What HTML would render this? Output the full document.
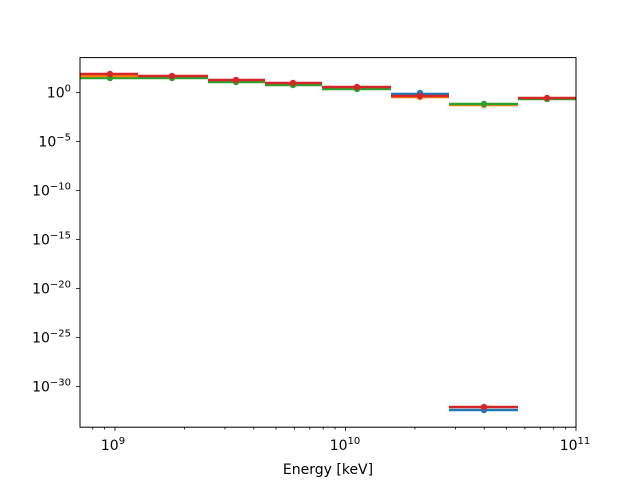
<!DOCTYPE html>
<html><head><meta charset="utf-8"><style>body{margin:0;background:#fff}svg{display:block}text{font-family:"DejaVu Sans","Liberation Sans",sans-serif;font-size:14px}</style></head>
<body>
<svg width="640" height="480" viewBox="0 0 640 480" xmlns="http://www.w3.org/2000/svg">
<rect width="640" height="480" fill="#fff"/>
<g stroke-width="2.5" fill="none">
<line x1="80" y1="78" x2="138" y2="78" stroke="#2ca02c"/>
<line x1="80" y1="76" x2="138" y2="76" stroke="#ff7f0e"/>
<line x1="80" y1="74" x2="138" y2="74" stroke="#d62728"/>
<line x1="138" y1="78" x2="208" y2="78" stroke="#2ca02c"/>
<line x1="138" y1="76" x2="208" y2="76" stroke="#d62728"/>
<line x1="208" y1="82" x2="265" y2="82" stroke="#2ca02c"/>
<line x1="208" y1="80" x2="265" y2="80" stroke="#d62728"/>
<line x1="265" y1="85" x2="322" y2="85" stroke="#2ca02c"/>
<line x1="265" y1="83" x2="322" y2="83" stroke="#d62728"/>
<line x1="322" y1="89" x2="391" y2="89" stroke="#2ca02c"/>
<line x1="322" y1="87" x2="391" y2="87" stroke="#d62728"/>
<line x1="391" y1="97" x2="449" y2="97" stroke="#ff7f0e"/>
<line x1="391" y1="94" x2="449" y2="94" stroke="#1f77b4"/>
<line x1="391" y1="96" x2="449" y2="96" stroke="#d62728"/>
<line x1="449" y1="105" x2="518" y2="105" stroke="#ff7f0e"/>
<line x1="449" y1="104" x2="518" y2="104" stroke="#2ca02c"/>
<line x1="449" y1="410" x2="518" y2="410" stroke="#1f77b4"/>
<line x1="449" y1="407" x2="518" y2="407" stroke="#d62728"/>
<line x1="518" y1="99" x2="576" y2="99" stroke="#2ca02c"/>
<line x1="518" y1="98" x2="576" y2="98" stroke="#d62728"/>
</g>
<g>
<circle cx="110" cy="78" r="3.2" fill="#2ca02c"/><circle cx="110" cy="74" r="3.2" fill="#d62728"/>
<circle cx="172" cy="78" r="3.2" fill="#2ca02c"/><circle cx="172" cy="76" r="3.2" fill="#d62728"/>
<circle cx="236" cy="82" r="3.2" fill="#2ca02c"/><circle cx="236" cy="80" r="3.2" fill="#d62728"/>
<circle cx="293" cy="85" r="3.2" fill="#2ca02c"/><circle cx="293" cy="83" r="3.2" fill="#d62728"/>
<circle cx="357" cy="89" r="3.2" fill="#2ca02c"/><circle cx="357" cy="87" r="3.2" fill="#d62728"/>
<circle cx="420" cy="97" r="3.2" fill="#ff7f0e"/><circle cx="420" cy="93" r="3.2" fill="#1f77b4"/><circle cx="420" cy="96" r="3.2" fill="#d62728"/>
<circle cx="484" cy="105" r="3.2" fill="#ff7f0e"/><circle cx="484" cy="104" r="3.2" fill="#2ca02c"/>
<circle cx="484" cy="410" r="3.2" fill="#1f77b4"/><circle cx="484" cy="407" r="3.2" fill="#d62728"/>
<circle cx="547" cy="99" r="3.2" fill="#2ca02c"/><circle cx="547" cy="98" r="3.2" fill="#d62728"/>
</g>
<rect x="80" y="57.6" width="496" height="369.6" fill="none" stroke="#000" stroke-width="1"/>
<g stroke="#000" stroke-width="0.8">
<line x1="115" y1="427" x2="115" y2="431"/>
<line x1="345.5" y1="427" x2="345.5" y2="431"/>
<line x1="576" y1="427" x2="576" y2="431"/>
<line x1="92.7" y1="427" x2="92.7" y2="429.5"/><line x1="104.5" y1="427" x2="104.5" y2="429.5"/>
<line x1="184.4" y1="427" x2="184.4" y2="429.5"/><line x1="225" y1="427" x2="225" y2="429.5"/><line x1="253.8" y1="427" x2="253.8" y2="429.5"/><line x1="276.1" y1="427" x2="276.1" y2="429.5"/><line x1="294.4" y1="427" x2="294.4" y2="429.5"/><line x1="309.8" y1="427" x2="309.8" y2="429.5"/><line x1="323.2" y1="427" x2="323.2" y2="429.5"/><line x1="335" y1="427" x2="335" y2="429.5"/>
<line x1="414.9" y1="427" x2="414.9" y2="429.5"/><line x1="455.5" y1="427" x2="455.5" y2="429.5"/><line x1="484.3" y1="427" x2="484.3" y2="429.5"/><line x1="506.6" y1="427" x2="506.6" y2="429.5"/><line x1="524.9" y1="427" x2="524.9" y2="429.5"/><line x1="540.3" y1="427" x2="540.3" y2="429.5"/><line x1="553.7" y1="427" x2="553.7" y2="429.5"/><line x1="565.5" y1="427" x2="565.5" y2="429.5"/>
<line x1="76" y1="92.5" x2="80" y2="92.5"/><line x1="76" y1="141.5" x2="80" y2="141.5"/><line x1="76" y1="190.5" x2="80" y2="190.5"/><line x1="76" y1="239.5" x2="80" y2="239.5"/><line x1="76" y1="288.5" x2="80" y2="288.5"/><line x1="76" y1="337.5" x2="80" y2="337.5"/><line x1="76" y1="386.5" x2="80" y2="386.5"/>
</g>
<g font-size="14" text-anchor="end">
<text x="71" y="97.5">10<tspan dy="-6" font-size="10">0</tspan></text>
<text x="71" y="146.5">10<tspan dy="-6" font-size="10">−5</tspan></text>
<text x="71" y="195.5">10<tspan dy="-6" font-size="10">−10</tspan></text>
<text x="71" y="244.5">10<tspan dy="-6" font-size="10">−15</tspan></text>
<text x="71" y="293.5">10<tspan dy="-6" font-size="10">−20</tspan></text>
<text x="71" y="342.5">10<tspan dy="-6" font-size="10">−25</tspan></text>
<text x="71" y="391.5">10<tspan dy="-6" font-size="10">−30</tspan></text>
</g>
<g text-anchor="middle">
<text x="113" y="450">10<tspan dy="-6" font-size="10">9</tspan></text>
<text x="345" y="450">10<tspan dy="-6" font-size="10">10</tspan></text>
<text x="575" y="450">10<tspan dy="-6" font-size="10">11</tspan></text>
<text x="328" y="474" font-size="13">Energy [keV]</text>
</g>
</svg>
</body></html>
